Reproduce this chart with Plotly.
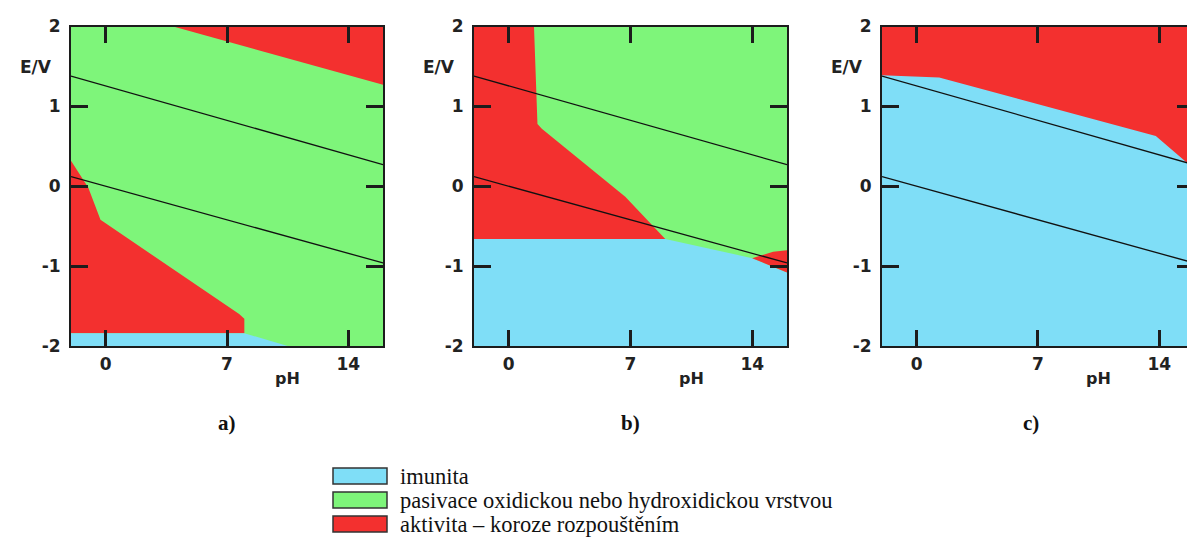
import plotly.graph_objects as go

# ---------------- data ----------------
ph_ticks = [0, 7, 14]
ph_tick_labels = ["0", "7", "14"]
e_ticks = [-2, -1, 0, 1, 2]
e_tick_labels = ["-2", "-1", "0", "1", "2"]

# water stability lines (endpoints)
water_ph = [-2, 16]
water_upper_e = [1.38, 0.27]
water_lower_e = [0.12, -0.96]

# panel a)
a_green_ph = [-2, 16, 16, -2]
a_green_e = [2, 2, -2, -2]
a_red_top_ph = [3.9, 16, 16]
a_red_top_e = [2, 2, 1.27]
a_red_low_ph = [-2, -1.0, -0.3, 7.7, 8.0, 8.0, -2]
a_red_low_e = [0.32, -0.02, -0.42, -1.6, -1.66, -1.84, -1.84]
a_blue_ph = [-2, 8.0, 10.5, -2]
a_blue_e = [-1.84, -1.84, -2, -2]

# panel b)
b_green_ph = [-2, 16, 16, -2]
b_green_e = [2, 2, -2, -2]
b_red_ph = [-2, 1.45, 1.65, 1.9, 6.7, 9.0, -2]
b_red_e = [2, 2, 0.78, 0.72, -0.13, -0.66, -0.66]
b_blue_ph = [-2, -2, 9.0, 14.0, 16, 16]
b_blue_e = [-2, -0.66, -0.66, -0.9, -1.08, -2]
b_red2_ph = [14.0, 15.2, 16, 16]
b_red2_e = [-0.9, -0.82, -0.8, -1.08]

# panel c)
c_blue_ph = [-2, 16, 16, -2]
c_blue_e = [2, 2, -2, -2]
c_red_ph = [-2, -2, 1.3, 13.8, 16, 16]
c_red_e = [2, 1.39, 1.36, 0.63, 0.22, 2]

panel_letters = ["a)", "b)", "c)"]
legend_labels = ["imunita",
                 "pasivace oxidickou nebo hydroxidickou vrstvou",
                 "aktivita \u2013 koroze rozpou\u0161t\u011bn\u00edm"]

# ---------------- style ----------------
BLUE = "#7fdef7"
GREEN = "#7ef57a"
RED = "#f3302f"
AX = "#1c1c1c"
W, H = 1187, 553

fig = go.Figure()


def poly(ph, e, color, xa, ya):
    fig.add_trace(go.Scatter(x=ph + [ph[0]], y=e + [e[0]], mode="lines",
                             fill="toself", fillcolor=color,
                             line=dict(width=0, color=color),
                             xaxis=xa, yaxis=ya, hoverinfo="skip",
                             showlegend=False))


def water(xa, ya):
    for ev in (water_upper_e, water_lower_e):
        fig.add_trace(go.Scatter(x=water_ph, y=ev, mode="lines",
                                 line=dict(color="#111", width=1.3),
                                 xaxis=xa, yaxis=ya, hoverinfo="skip",
                                 showlegend=False))


# panel a
poly(a_green_ph, a_green_e, GREEN, "x", "y")
poly(a_red_top_ph, a_red_top_e, RED, "x", "y")
poly(a_red_low_ph, a_red_low_e, RED, "x", "y")
poly(a_blue_ph, a_blue_e, BLUE, "x", "y")
water("x", "y")
# panel b
poly(b_green_ph, b_green_e, GREEN, "x2", "y2")
poly(b_red_ph, b_red_e, RED, "x2", "y2")
poly(b_blue_ph, b_blue_e, BLUE, "x2", "y2")
poly(b_red2_ph, b_red2_e, RED, "x2", "y2")
water("x2", "y2")
# panel c
poly(c_blue_ph, c_blue_e, BLUE, "x3", "y3")
poly(c_red_ph, c_red_e, RED, "x3", "y3")
water("x3", "y3")
# invisible helper trace for right-side tick axis of panel c
fig.add_trace(go.Scatter(x=water_ph, y=water_lower_e, mode="lines",
                         line=dict(width=0), opacity=0, xaxis="x3", yaxis="y4",
                         hoverinfo="skip", showlegend=False))

tickfont = dict(family="DejaVu Sans", size=17, color="#222", weight="bold")
ydom = [1 - 346 / H, 1 - 26.5 / H]
xdoms = [[71 / W, 383 / W], [474 / W, 787 / W], [882 / W, 1.0]]
xranges = [[-2, 16], [-2, 16], [-2, 15.6]]

for i in range(3):
    sx = "" if i == 0 else str(i + 1)
    fig.layout["xaxis" + sx] = dict(
        domain=xdoms[i], range=xranges[i], anchor="y" + sx,
        tickmode="array", tickvals=ph_ticks, ticktext=ph_tick_labels,
        ticks="inside", ticklen=16, tickwidth=2.5, tickcolor=AX,
        showline=True, linecolor=AX, linewidth=2, mirror="ticks",
        showgrid=False, zeroline=False, tickfont=tickfont,
        ticklabelstandoff=2, fixedrange=True, automargin=False)
    fig.layout["yaxis" + sx] = dict(
        domain=ydom, range=[-2, 2], anchor="x" + sx,
        tickmode="array", tickvals=e_ticks, ticktext=e_tick_labels,
        ticks="inside", ticklen=17, tickwidth=2.5, tickcolor=AX,
        showline=True, linecolor=AX, linewidth=2,
        mirror=("ticks" if i < 2 else False),
        showgrid=False, zeroline=False, tickfont=tickfont,
        ticklabelstandoff=5, fixedrange=True, automargin=False)

fig.layout["yaxis4"] = dict(
    overlaying="y3", side="right", anchor="x3", range=[-2, 2],
    tickmode="array", tickvals=e_ticks, ticks="inside", ticklen=10,
    tickwidth=2.5, tickcolor=AX, showline=False, showticklabels=False,
    showgrid=False, zeroline=False, fixedrange=True, automargin=False)

annotations = []
for i in range(3):
    sx = "" if i == 0 else str(i + 1)
    annotations.append(dict(text="E/V", xref="x" + sx + " domain", x=0,
                            xanchor="right", xshift=-17, yref="y" + sx, y=1.49,
                            yanchor="middle", showarrow=False,
                            font=dict(family="DejaVu Sans", size=17,
                                      color="#222", weight="bold")))
    annotations.append(dict(text="pH", xref="x" + sx, x=10.5, xanchor="center",
                            yref="y" + sx + " domain", y=0, yanchor="top",
                            yshift=-21, showarrow=False,
                            font=dict(family="DejaVu Sans", size=16,
                                      color="#222", weight="bold")))
    annotations.append(dict(text=panel_letters[i], xref="x" + sx,
                            x=7 if i < 2 else 6.6, xanchor="center",
                            yref="paper", y=1 - 423 / H, yanchor="middle",
                            showarrow=False,
                            font=dict(family="Liberation Serif", size=21,
                                      color="#111", weight="bold")))

legend_colors = [BLUE, GREEN, RED]
legend_rows = [476, 500, 524]
shapes = []
for lbl, col, ry in zip(legend_labels, legend_colors, legend_rows):
    shapes.append(dict(type="rect", xref="paper", yref="paper",
                       x0=333 / W, x1=387 / W,
                       y0=1 - (ry + 8) / H, y1=1 - (ry - 8) / H,
                       fillcolor=col, line=dict(color="#333", width=1.5)))
    annotations.append(dict(text=lbl, xref="paper", x=398 / W, xanchor="left",
                            yref="paper", y=1 - ry / H, yanchor="middle",
                            showarrow=False,
                            font=dict(family="Liberation Serif", size=22.5,
                                      color="#111")))

fig.update_layout(width=W, height=H, margin=dict(l=0, r=0, t=0, b=0),
                  paper_bgcolor="white", plot_bgcolor="white",
                  showlegend=False, annotations=annotations, shapes=shapes)

fig.write_html("out.html", config={"displayModeBar": False},
               post_script="document.body.style.margin='0';"
                           "document.body.style.overflow='hidden';")
